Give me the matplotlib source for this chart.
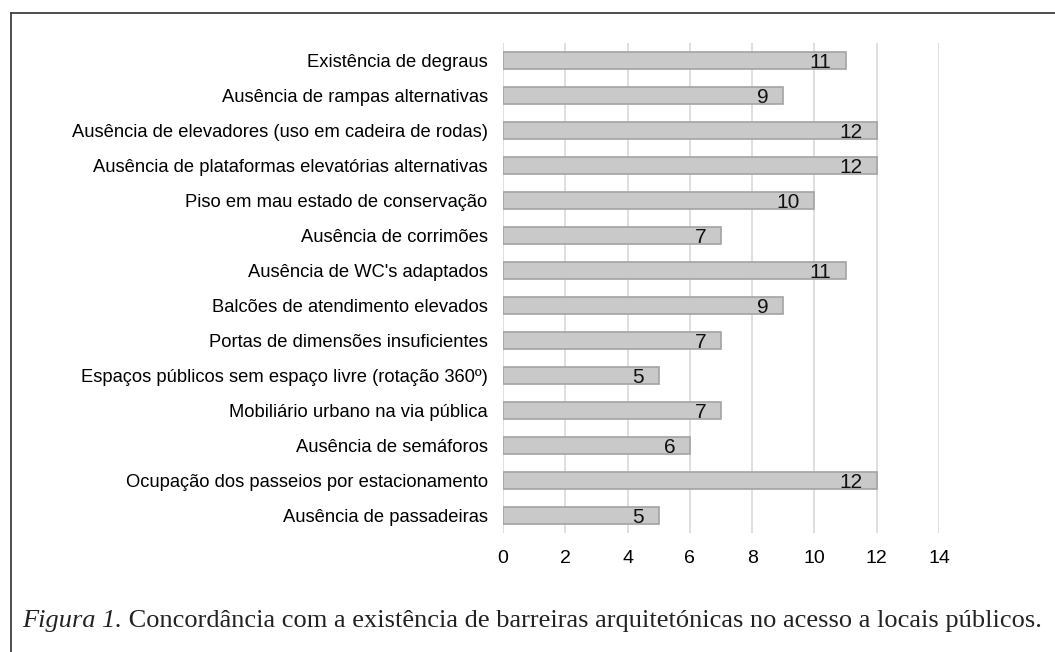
import matplotlib
matplotlib.use("Agg")
import matplotlib.pyplot as plt
from matplotlib.lines import Line2D

categories = [
    "Existência de degraus",
    "Ausência de rampas alternativas",
    "Ausência de elevadores (uso em cadeira de rodas)",
    "Ausência de plataformas elevatórias alternativas",
    "Piso em mau estado de conservação",
    "Ausência de corrimões",
    "Ausência de WC's adaptados",
    "Balcões de atendimento elevados",
    "Portas de dimensões insuficientes",
    "Espaços públicos sem espaço livre (rotação 360º)",
    "Mobiliário urbano na via pública",
    "Ausência de semáforos",
    "Ocupação dos passeios por estacionamento",
    "Ausência de passadeiras",
]
values = [11, 9, 12, 12, 10, 7, 11, 9, 7, 5, 7, 6, 12, 5]
xticks = [0, 2, 4, 6, 8, 10, 12, 14]
caption_italic = "Figura 1."
caption_rest = " Concordância com a existência de barreiras arquitetónicas no acesso a locais públicos."

W, H = 1055, 652
fig = plt.figure(figsize=(W / 100, H / 100), dpi=100)
ax = fig.add_axes([503 / W, 1 - 533 / H, (939 - 503) / W, (533 - 43) / H])

ypos = list(range(len(categories)))[::-1]
ax.barh(ypos, values, height=0.51, color="#c9c9c9", edgecolor="#a3a3a3", linewidth=1.2, zorder=3)
lab_fs = 15
for y, v in zip(ypos, values):
    ax.annotate(str(v), xy=(v, y), xytext=(-10.5, -0.716 * lab_fs / 2), textcoords="offset points",
                ha="right", va="baseline", fontsize=lab_fs, family="Liberation Sans",
                color="#111111", zorder=4)

ax.set_xlim(0, 14)
ax.set_ylim(-0.5, len(categories) - 0.5)
ax.set_xticks(xticks)
ax.set_xticklabels([str(t) for t in xticks], fontsize=14, family="Liberation Sans")
ax.set_yticks(ypos)
ax.set_yticklabels(categories, fontsize=13.2, family="Liberation Sans")
ax.tick_params(axis="both", length=0)
ax.tick_params(axis="x", pad=12.5)
ax.tick_params(axis="y", pad=11)
ax.grid(axis="x", color="#d9d9d9", linewidth=1.2, zorder=0)
for s in ax.spines.values():
    s.set_visible(False)

# frame lines
fig.add_artist(Line2D([11 / W, 1.0], [1 - 13 / H, 1 - 13 / H], transform=fig.transFigure,
                      color="#404040", linewidth=1.3))
fig.add_artist(Line2D([11 / W, 11 / W], [0, 1 - 13 / H], transform=fig.transFigure,
                      color="#404040", linewidth=1.3))

# caption
cy = 1 - 621 / H
t1 = fig.text(22 / W, cy, caption_italic, fontsize=19, family="Liberation Serif",
              style="italic", va="center", ha="left", color="#222222")
fig.canvas.draw()
bb = t1.get_window_extent()
fig.text(bb.x1 / W, cy, caption_rest, fontsize=19, family="Liberation Serif",
         va="center", ha="left", color="#222222")

fig.savefig("out.png", dpi=100)
